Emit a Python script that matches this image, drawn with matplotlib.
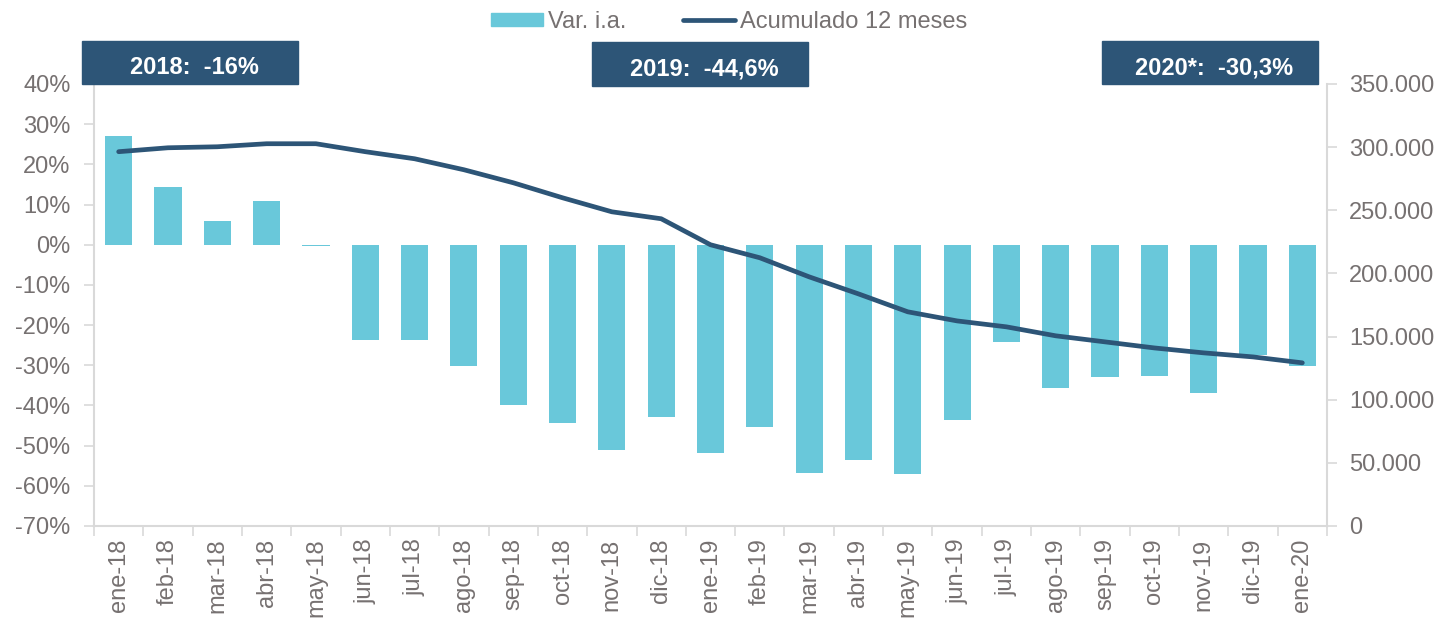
import matplotlib
matplotlib.use("Agg")
import matplotlib.pyplot as plt
import matplotlib.ticker as mticker
from matplotlib.patches import Rectangle
from matplotlib.lines import Line2D
import numpy as np

plt.rcParams['font.family'] = ['Liberation Sans', 'DejaVu Sans']

meses = ['ene-18', 'feb-18', 'mar-18', 'abr-18', 'may-18', 'jun-18', 'jul-18',
         'ago-18', 'sep-18', 'oct-18', 'nov-18', 'dic-18', 'ene-19', 'feb-19',
         'mar-19', 'abr-19', 'may-19', 'jun-19', 'jul-19', 'ago-19', 'sep-19',
         'oct-19', 'nov-19', 'dic-19', 'ene-20']
var_ia = [27.0, 14.3, 5.8, 10.8, -0.3, -23.8, -23.8, -30.2, -39.9, -44.4,
          -51.1, -42.9, -51.9, -45.4, -56.8, -53.6, -57.1, -43.7, -24.3,
          -35.7, -33.0, -32.7, -36.9, -27.5, -30.2]
acumulado = [296400, 299500, 300300, 302700, 302700, 296400, 290800, 282100,
             271800, 259900, 248800, 243300, 222700, 212400, 197300, 183800,
             169600, 162400, 157700, 150600, 145800, 141000, 137100, 133900,
             129200]
cajas = ['2018:  -16%', '2019:  -44,6%', '2020*:  -30,3%']

col_bar = '#69C8DA'
col_line = '#2D5577'
col_txt = '#767171'
col_axis = '#D9D9D9'
fs = 17

W, H = 1449, 618
fig = plt.figure(figsize=(W / 100, H / 100), dpi=100)
ax = fig.add_axes([94 / W, 1 - 526 / H, (1327 - 94) / W, (526 - 84) / H])
ax2 = ax.twinx()

x = np.arange(len(meses))
ax.bar(x, var_ia, width=0.55, color=col_bar, zorder=2)
ax2.plot(x, acumulado, color=col_line, lw=3.4, solid_capstyle='round',
         solid_joinstyle='round', zorder=3)

ax.set_xlim(-0.5, len(meses) - 0.5)
ax.set_ylim(-70, 40)
ax.set_yticks(np.arange(-70, 41, 10))
ax.yaxis.set_major_formatter(mticker.FuncFormatter(lambda v, p: f'{v:.0f}%'))
ax2.set_ylim(0, 350000)
ax2.set_yticks(np.arange(0, 350001, 50000))
ax2.yaxis.set_major_formatter(
    mticker.FuncFormatter(lambda v, p: f'{v:,.0f}'.replace(',', '.')))

ax.set_xticks(x)
ax.set_xticklabels(meses, rotation=90, fontsize=fs, color=col_txt)
ax.set_xticks(np.arange(-0.5, len(meses), 1), minor=True)
ax.tick_params(axis='x', which='major', length=0, pad=9)
ax.tick_params(axis='x', which='minor', length=7, width=1.2, color=col_axis)
ax.tick_params(axis='y', labelsize=fs, labelcolor=col_txt, length=7,
               width=1.2, color=col_axis, pad=10)
ax2.tick_params(axis='y', labelsize=fs, labelcolor=col_txt, length=7,
                width=1.2, color=col_axis, pad=9)

for a in (ax, ax2):
    for s in a.spines.values():
        s.set_visible(False)
ax.spines['left'].set_visible(True)
ax.spines['bottom'].set_visible(True)
ax2.spines['right'].set_visible(True)
for s in (ax.spines['left'], ax.spines['bottom'], ax2.spines['right']):
    s.set_color(col_axis)
    s.set_linewidth(1.5)

# cajas con el total anual
pos_cajas = [(82, 41, 84), (592, 42, 86), (1102, 41, 84)]
for txt, (x0, y0, y1) in zip(cajas, pos_cajas):
    fig.patches.append(Rectangle((x0 / W, 1 - y1 / H), 216 / W, (y1 - y0) / H,
                                 transform=fig.transFigure, color=col_line,
                                 zorder=5))
    fig.text((x0 + 112) / W, 1 - (y0 + 27) / H, txt, color='white',
             fontsize=fs, fontweight='bold', ha='center', va='center',
             zorder=6)

handles = [Rectangle((0, 0), 1, 1, color=col_bar),
           Line2D([0], [0], color=col_line, lw=3.4, solid_capstyle='round')]
fig.legend(handles, ['Var. i.a.', 'Acumulado 12 meses'], loc='center',
           bbox_to_anchor=(729 / W, 1 - 22 / H), ncol=2, frameon=False,
           fontsize=fs, labelcolor=col_txt, handlelength=2.2,
           handleheight=0.5, handletextpad=0.2, columnspacing=2.4)

fig.savefig('out.png', dpi=100)
